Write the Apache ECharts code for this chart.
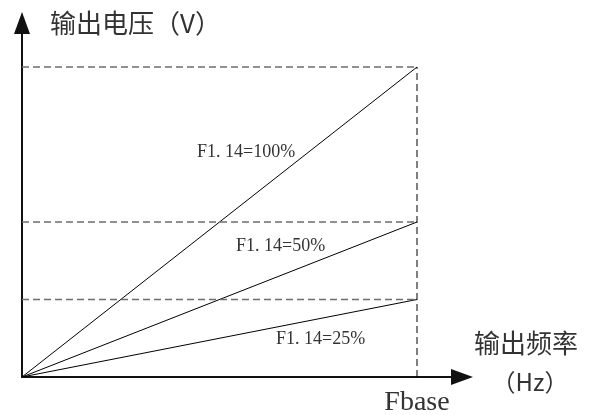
<!DOCTYPE html>
<html>
<head>
<meta charset="utf-8">
<script src="https://cdn.jsdelivr.net/npm/echarts@6/dist/echarts.min.js"></script>
<style>
html,body{margin:0;padding:0;background:#fff;}
#main{width:601px;height:415px;}
</style>
</head>
<body>
<div id="main"></div>
<script>
// 频率：0 到 Fbase（取 Fbase = 1）
var freq = [0, 1];
// F1.14 设定值（输出电压，Fbase 处的百分比）
var settings = [100, 50, 25];
var setLabels = ['F1. 14=100%', 'F1. 14=50%', 'F1. 14=25%'];
var yTitle = '输出电压（V）';
var xTitle = '输出频率';
var xUnit = '（Hz）';
var fbaseText = 'Fbase';

// 坐标轴略长于 Fbase / 100%，留出箭头
var xMax = 440 / 395;
var yMax = 354 / 310 * 100;

var series = [];
// 斜线
for (var i = 0; i < settings.length; i++) {
	series.push({
		type: 'line',
		symbol: 'none',
		silent: true,
		lineStyle: {color: '#000', width: 1},
		data: [[freq[0], 0], [freq[1], settings[i]]]
	});
}
// 水平虚线
for (var i = 0; i < settings.length; i++) {
	series.push({
		type: 'line',
		symbol: 'none',
		silent: true,
		lineStyle: {color: '#6e6e6e', width: 1.5, type: [7, 4]},
		data: [[freq[0], settings[i]], [freq[1], settings[i]]]
	});
}
// Fbase 处竖直虚线
series.push({
	type: 'line',
	symbol: 'none',
	silent: true,
	lineStyle: {color: '#000', width: 1, type: [7, 4]},
	data: [[freq[1], 0], [freq[1], settings[0]]]
});

var labelFont = '18px "Liberation Serif", serif';
var cjkFont = '"Noto Sans CJK SC", sans-serif';

var option = {
	animation: false,
	grid: {left: 22, right: 139, top: 23, bottom: 38},
	xAxis: {
		type: 'value',
		min: 0,
		max: xMax,
		axisLine: {
			show: true,
			onZero: false,
			symbol: ['none', 'triangle'],
			symbolSize: [16, 22],
			lineStyle: {color: '#111', width: 2}
		},
		axisTick: {show: false},
		axisLabel: {show: false},
		splitLine: {show: false}
	},
	yAxis: {
		type: 'value',
		min: 0,
		max: yMax,
		axisLine: {
			show: true,
			onZero: false,
			symbol: ['none', 'triangle'],
			symbolSize: [16, 22],
			lineStyle: {color: '#111', width: 2}
		},
		axisTick: {show: false},
		axisLabel: {show: false},
		splitLine: {show: false}
	},
	series: series,
	graphic: [
		{type: 'text', left: 50, top: 10, style: {text: yTitle, font: '26px ' + cjkFont, fill: '#333'}},
		{type: 'text', left: 474, top: 330, style: {text: xTitle, font: '26px ' + cjkFont, fill: '#333'}},
		{type: 'text', x: 530, y: 382, style: {text: xUnit, font: '24px ' + cjkFont, fill: '#333', align: 'center', verticalAlign: 'middle'}},
		{type: 'text', x: 417, y: 403, style: {text: fbaseText, font: '28px "Liberation Serif", serif', fill: '#333', align: 'center', verticalAlign: 'middle'}},
		{type: 'text', x: 197, y: 152, style: {text: setLabels[0], font: labelFont, fill: '#333', verticalAlign: 'middle'}},
		{type: 'text', x: 236, y: 246, style: {text: setLabels[1], font: labelFont, fill: '#333', verticalAlign: 'middle'}},
		{type: 'text', x: 276, y: 339, style: {text: setLabels[2], font: labelFont, fill: '#333', verticalAlign: 'middle'}}
	]
};

var mychart = echarts.init(document.getElementById('main'));
mychart.setOption(option);
</script>
</body>
</html>
